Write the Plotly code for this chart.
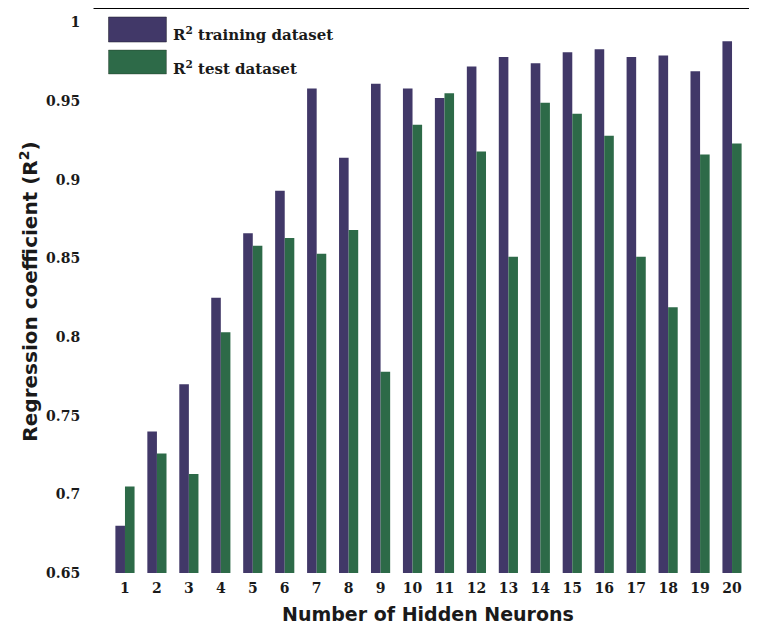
import plotly.graph_objects as go

neurons = [str(i) for i in range(1, 21)]
r2_train = [0.680, 0.740, 0.770, 0.825, 0.866, 0.893, 0.958, 0.914, 0.961, 0.958,
            0.952, 0.972, 0.978, 0.974, 0.981, 0.983, 0.978, 0.979, 0.969, 0.988]
r2_test = [0.705, 0.726, 0.713, 0.803, 0.858, 0.863, 0.853, 0.868, 0.778, 0.935,
           0.955, 0.918, 0.851, 0.949, 0.942, 0.928, 0.851, 0.819, 0.916, 0.923]
ytick_vals = [0.65, 0.70, 0.75, 0.80, 0.85, 0.90, 0.95, 1.0]
ytick_text = ["0.65", "0.7", "0.75", "0.8", "0.85", "0.9", "0.95", "1"]

c_train = "#413868"
c_test = "#2d6a48"
txt = "#1a1a1a"

fig = go.Figure()
fig.add_trace(go.Bar(x=neurons, y=r2_train, name="R² training dataset",
                     marker=dict(color=c_train, line=dict(width=0)), base=0))
fig.add_trace(go.Bar(x=neurons, y=r2_test, name="R² test dataset",
                     marker=dict(color=c_test, line=dict(width=0)), base=0))

# page is offset by the 8px body margin
OFF = 8
W, H = 749, 624
L, R, T, B = 100.5, 8.5, 0, 59
pw = W - L - R
ph = H - T - B

def px(xpage):
    return (xpage - OFF - L) / pw

def py(ypage):
    return (H - B - (ypage - OFF)) / ph

shapes = [
    dict(type="line", xref="paper", yref="paper", x0=px(93), x1=px(757), y0=py(8), y1=py(8),
         line=dict(color="black", width=2)),
    dict(type="rect", xref="paper", yref="paper", x0=px(108), x1=px(166), y0=py(42), y1=py(17),
         fillcolor=c_train, line=dict(color="rgba(30,30,40,0.5)", width=1)),
    dict(type="rect", xref="paper", yref="paper", x0=px(108), x1=px(166), y0=py(74), y1=py(50),
         fillcolor=c_test, line=dict(color="rgba(30,40,30,0.35)", width=1)),
]

legend_font = dict(family="DejaVu Serif", size=15, color=txt)
annotations = [
    dict(x=px(171), y=py(34), xref="paper", yref="paper", xanchor="left", yanchor="middle",
         text="<b>R<sup>2</sup> training dataset</b>", showarrow=False, font=legend_font),
    dict(x=px(171), y=py(68), xref="paper", yref="paper", xanchor="left", yanchor="middle",
         text="<b>R<sup>2</sup> test dataset</b>", showarrow=False, font=legend_font),
    dict(x=px(28), y=py(292), xref="paper", yref="paper", xanchor="center", yanchor="middle",
         textangle=-90, text="<b>Regression coefficient (R<sup>2</sup>)</b>", showarrow=False,
         font=dict(family="DejaVu Sans", size=20, color=txt)),
    dict(x=px(428), y=py(614), xref="paper", yref="paper", xanchor="center", yanchor="middle",
         text="<b>Number of Hidden Neurons</b>", showarrow=False,
         font=dict(family="DejaVu Sans", size=19, color=txt)),
]

fig.update_layout(
    width=W, height=H,
    margin=dict(l=L, r=R, t=T, b=B, pad=0),
    plot_bgcolor="white", paper_bgcolor="white",
    barmode="group", bargap=0.4, bargroupgap=0,
    showlegend=False,
    shapes=shapes, annotations=annotations,
    xaxis=dict(
        range=[-0.5, 19.5], showgrid=False, zeroline=False, showline=False,
        ticks="outside", ticklen=2, tickcolor="rgba(0,0,0,0)",
        tickfont=dict(family="DejaVu Serif", size=14, color=txt, weight="bold"),
    ),
    yaxis=dict(
        range=[0.65, 1.0092], showgrid=False, zeroline=False, showline=False,
        ticks="outside", ticklen=25, tickcolor="rgba(0,0,0,0)",
        tickvals=ytick_vals, ticktext=ytick_text,
        tickfont=dict(family="DejaVu Serif", size=14, color=txt, weight="bold"),
    ),
)

fig.write_html("out.html")
